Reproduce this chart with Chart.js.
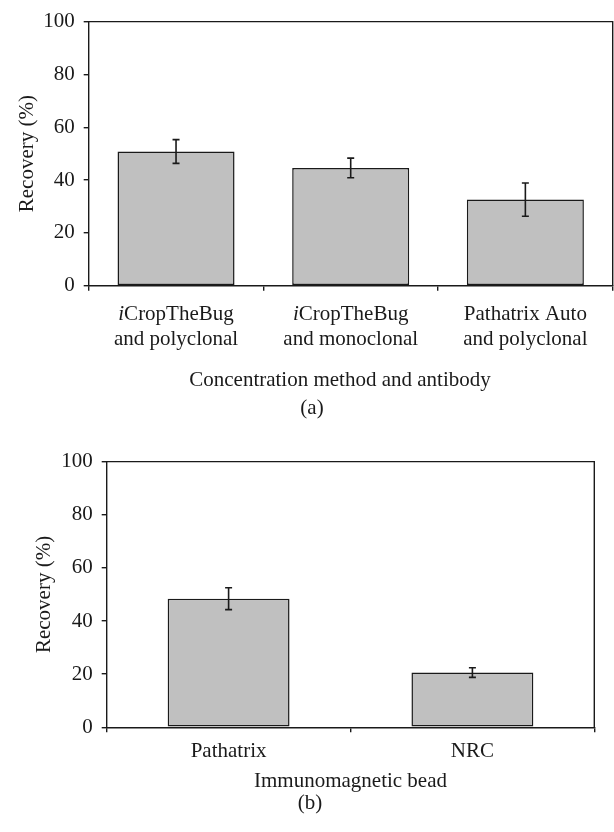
<!DOCTYPE html>
<html>
<head>
<meta charset="utf-8">
<script src="https://cdn.jsdelivr.net/npm/chart.js@4.4.0/dist/chart.umd.min.js"></script>
<style>
    body { margin: 0; background: #fff; width: 614px; height: 832px; position: relative; overflow: hidden; }
    .panel { position: absolute; left: 0; width: 614px; }
    #panelA { top: 0; height: 420px; }
    #panelB { top: 440px; height: 392px; }
</style>
</head>
<body>
<div class="panel" id="panelA"><canvas id="chartA"></canvas></div>
<div class="panel" id="panelB"><canvas id="chartB"></canvas></div>
<script>
// 数据 (a)
const labelsA = [['iCropTheBug', 'and polyclonal'], ['iCropTheBug', 'and monoclonal'], ['Pathatrix Auto', 'and polyclonal']];
const recoveryA = [50.8, 44.6, 32.6];
const errorA = [4.5, 3.7, 6.3];

// 数据 (b)
const labelsB = ['Pathatrix', 'NRC'];
const recoveryB = [48.4, 20.6];
const errorB = [4.1, 1.8];

const yTicks = [0, 20, 40, 60, 80, 100];

const INK = '#1a1a1a';
const SERIF = '"Liberation Serif", "Times New Roman", serif';
const FS = 21;

// 误差线
const errorBarPlugin = {
    id: 'errorBars',
    afterDatasetsDraw(chart, args, opts) {
        const ctx = chart.ctx;
        const y = chart.scales.y;
        const vals = chart.data.datasets[0].data;
        ctx.save();
        ctx.strokeStyle = INK;
        ctx.lineWidth = 1.6;
        chart.getDatasetMeta(0).data.forEach((bar, i) => {
            const top = y.getPixelForValue(vals[i] + opts.errors[i]);
            const bot = y.getPixelForValue(vals[i] - opts.errors[i]);
            ctx.beginPath();
            ctx.moveTo(bar.x, top); ctx.lineTo(bar.x, bot);
            ctx.moveTo(bar.x - 3.5, top); ctx.lineTo(bar.x + 3.5, top);
            ctx.moveTo(bar.x - 3.5, bot); ctx.lineTo(bar.x + 3.5, bot);
            ctx.stroke();
        });
        ctx.restore();
    }
};

// 图框上边和右边
const framePlugin = {
    id: 'frame',
    afterDraw(chart) {
        const {ctx, chartArea: a} = chart;
        ctx.save();
        ctx.strokeStyle = INK;
        ctx.lineWidth = 1.4;
        ctx.beginPath();
        ctx.moveTo(a.left, a.top); ctx.lineTo(a.right, a.top); ctx.lineTo(a.right, a.bottom);
        ctx.stroke();
        ctx.restore();
    }
};

// 一行标签, "iCropTheBug" 的 i 用斜体
function drawLabelLine(ctx, line, cx, y) {
    const lead = line.startsWith('iCrop') ? 'i' : '';
    const rest = line.slice(lead.length);
    const italicFont = `italic ${FS}px ${SERIF}`;
    const normalFont = `${FS}px ${SERIF}`;
    ctx.font = italicFont;
    const wi = lead ? ctx.measureText(lead).width : 0;
    ctx.font = normalFont;
    const wr = ctx.measureText(rest).width;
    const left = cx - (wi + wr) / 2;
    ctx.textAlign = 'left';
    if (lead) {
        ctx.font = italicFont;
        ctx.fillText(lead, left, y);
        ctx.font = normalFont;
    }
    ctx.fillText(rest, left + wi, y);
}

// 类别标签, 横轴标题, 面板编号
const textPlugin = {
    id: 'panelText',
    afterDraw(chart, args, opts) {
        const {ctx, chartArea} = chart;
        const x = chart.scales.x;
        ctx.save();
        ctx.fillStyle = INK;
        ctx.textBaseline = 'alphabetic';
        chart.data.labels.forEach((lab, i) => {
            const lines = Array.isArray(lab) ? lab : [lab];
            const cx = x.getPixelForTick(i);
            lines.forEach((line, j) => drawLabelLine(ctx, line, cx, chartArea.bottom + opts.labelOffset + j * 25));
        });
        ctx.font = `${FS}px ${SERIF}`;
        ctx.textAlign = 'center';
        ctx.fillText(opts.title, opts.titleX, opts.titleY);
        ctx.fillText(opts.panel, opts.panelX, opts.panelY);
        ctx.restore();
    }
};

function makeChart(id, labels, values, errors, cfg) {
    return new Chart(document.getElementById(id), {
        type: 'bar',
        data: {
            labels: labels,
            datasets: [{
                data: values,
                backgroundColor: '#c0c0c0',
                borderColor: INK,
                borderWidth: 1.5,
                borderSkipped: false,
                categoryPercentage: 1,
                barPercentage: cfg.barPct
            }]
        },
        options: {
            responsive: true,
            maintainAspectRatio: false,
            animation: false,
            layout: { padding: cfg.padding },
            plugins: {
                legend: { display: false },
                tooltip: { enabled: false },
                errorBars: { errors: errors },
                panelText: cfg.text
            },
            scales: {
                x: {
                    offset: true,
                    ticks: { display: false },
                    grid: { offset: true, drawOnChartArea: false, tickLength: 5, color: INK, lineWidth: 1.4 },
                    border: { color: INK, width: 1.4 },
                    afterFit: s => { s.height = cfg.xHeight; }
                },
                y: {
                    min: 0,
                    max: 100,
                    afterBuildTicks: s => { s.ticks = yTicks.map(v => ({ value: v })); },
                    ticks: { font: { family: SERIF, size: 21 }, color: INK, padding: 9 },
                    grid: { drawOnChartArea: false, tickLength: 5, color: INK, lineWidth: 1.4 },
                    border: { color: INK, width: 1.4 },
                    title: {
                        display: true,
                        text: 'Recovery (%)',
                        font: { family: SERIF, size: FS },
                        color: INK,
                        padding: { top: cfg.yTitlePad, bottom: 0 }
                    },
                    afterFit: s => { s.width = cfg.yWidth; }
                }
            }
        },
        plugins: [errorBarPlugin, framePlugin, textPlugin]
    });
}

makeChart('chartA', labelsA, recoveryA, errorA, {
    barPct: 0.67,
    padding: { top: 14.3, right: 1.3, left: 0, bottom: 0 },
    xHeight: 420 - 285.7,
    yWidth: 88.7,
    yTitlePad: 14.4,
    text: { labelOffset: 34, title: 'Concentration method and antibody', titleX: 340, titleY: 386, panel: '(a)', panelX: 312, panelY: 414 }
});

makeChart('chartB', labelsB, recoveryB, errorB, {
    barPct: 0.5,
    padding: { top: 15.3, right: 19.7, left: 0, bottom: 0 },
    xHeight: 392 - 287.3,
    yWidth: 106.7,
    yTitlePad: 31.4,
    text: { labelOffset: 30, title: 'Immunomagnetic bead', titleX: 350.5, titleY: 347.3, panel: '(b)', panelX: 310, panelY: 369 }
});
</script>
</body>
</html>
